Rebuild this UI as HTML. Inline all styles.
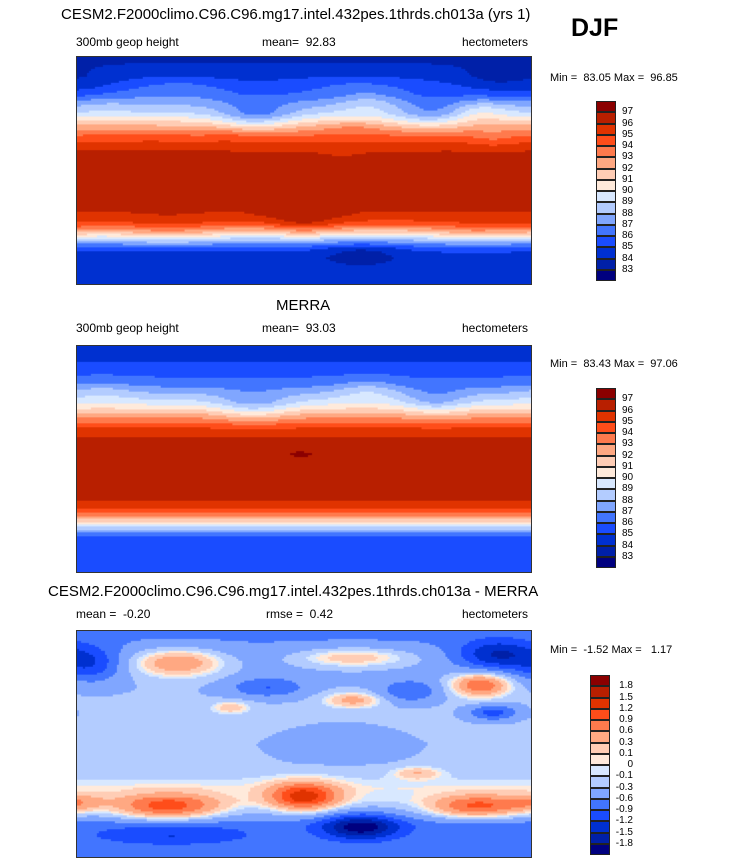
<!DOCTYPE html>
<html><head><meta charset="utf-8"><style>
body{margin:0;background:#fff;width:732px;height:865px;position:relative;overflow:hidden;font-family:"Liberation Sans",Arial,sans-serif;color:#000}
.t{position:absolute;white-space:nowrap}
.title{font-size:15px}
.sub{font-size:12px}
canvas{position:absolute;border:1px solid #333;box-sizing:border-box}
.cb{position:absolute}
.lab{position:absolute;font-size:10px}
</style></head><body>
<div class="t title" style="left:61px;top:6px">CESM2.F2000climo.C96.C96.mg17.intel.432pes.1thrds.ch013a (yrs 1)</div>
<div class="t" style="left:571px;top:14px;font-size:25px;font-weight:bold">DJF</div>
<div class="t sub" style="left:76px;top:35px">300mb geop height</div>
<div class="t sub" style="left:262px;top:35px">mean=&nbsp; 92.83</div>
<div class="t sub" style="left:462px;top:35px">hectometers</div>
<div class="t sub" style="left:550px;top:72px;font-size:11px">Min =&nbsp; 83.05 Max =&nbsp; 96.85</div>
<canvas id="m1" width="456" height="229" style="left:76px;top:56px;width:456px;height:229px"></canvas>

<div class="t title" style="left:276px;top:297px">MERRA</div>
<div class="t sub" style="left:76px;top:321px">300mb geop height</div>
<div class="t sub" style="left:262px;top:321px">mean=&nbsp; 93.03</div>
<div class="t sub" style="left:462px;top:321px">hectometers</div>
<div class="t sub" style="left:550px;top:358px;font-size:11px">Min =&nbsp; 83.43 Max =&nbsp; 97.06</div>
<canvas id="m2" width="456" height="228" style="left:76px;top:345px;width:456px;height:228px"></canvas>

<div class="t title" style="left:48px;top:583px">CESM2.F2000climo.C96.C96.mg17.intel.432pes.1thrds.ch013a - MERRA</div>
<div class="t sub" style="left:76px;top:607px">mean =&nbsp; -0.20</div>
<div class="t sub" style="left:266px;top:607px">rmse =&nbsp; 0.42</div>
<div class="t sub" style="left:462px;top:607px">hectometers</div>
<div class="t sub" style="left:550px;top:644px;font-size:11px">Min =&nbsp; -1.52 Max =&nbsp; &nbsp;1.17</div>
<canvas id="m3" width="456" height="228" style="left:76px;top:630px;width:456px;height:228px"></canvas>

<div id="cbs"></div>
<script>
const colors=["#00007f","#0020a8","#0030d0","#1a4cff","#4275ff","#80a6ff","#b3ccff","#d8e8ff","#ffeadb","#ffcdb5","#ffa882","#ff7a4d","#ff4d1a","#e03300","#b81f00","#8b0000"];
const absLevels=[83,84,85,86,87,88,89,90,91,92,93,94,95,96,97];
const absLabels=["83","84","85","86","87","88","89","90","91","92","93","94","95","96","97"];
const diffLevels=[-1.8,-1.5,-1.2,-0.9,-0.6,-0.3,-0.1,0,0.1,0.3,0.6,0.9,1.2,1.5,1.8];
const diffLabels=["-1.8","-1.5","-1.2","-0.9","-0.6","-0.3","-0.1","0","0.1","0.3","0.6","0.9","1.2","1.5","1.8"];
// MERRA zonal profile
const profLat=[90,75,60,45,35,25,15,0,-15,-30,-36,-42,-50,-55,-62,-70,-90];
const profVal=[84.4,85.1,86.5,89.5,92.5,95,96.3,96.6,96.5,96.2,95.8,94.5,91,88.5,86,85.2,85.5];
// MERRA anomalies: lon, lat, amp, rx, ry
const mLon=[140,285,230,177,20];
const mLat=[42,45,55,4,55];
const mAmp=[-2.0,-1.6,1.2,0.7,0.8];
const mRx=[30,25,25,14,25];
const mRy=[12,12,10,3,10];
// difference field: background profile + blobs
const dLat=[90,70,50,30,15,0,-15,-25,-35,-45,-55,-65,-75,-90];
const dBg=[-0.7,-0.5,-0.32,-0.25,-0.25,-0.28,-0.27,-0.15,0,-0.1,-0.4,-0.75,-0.7,-0.6];
const bLon=[80,219,320,219,122,72,180,317,270,225,75,333,11,151,264,330,0,210,60];
const bLat=[65,69,47,35,29,-50,-42,-50,-23,-66,-73,71,63,45,42,25,-47,0,5];
const bAmp=[1.0,0.7,1.2,0.7,0.5,1.3,1.5,1.2,0.5,-1.3,-0.5,-1.0,-0.7,-0.6,-0.6,-0.8,0.5,-0.2,0.15];
const bRx=[36,48,22,22,15,42,27,36,18,30,60,30,24,30,24,19,22,45,35];
const bRy=[11,8,9,6,5,10,11,9,5,10,8,12,14,8,9,6,7,15,12];

function interp(xs,ys,x){for(let i=0;i<xs.length-1;i++){if(x<=xs[i]&&x>=xs[i+1]){const t=(x-xs[i])/(xs[i+1]-xs[i]);return ys[i]+t*(ys[i+1]-ys[i]);}}return ys[ys.length-1];}
function blobs(L,A,amp,rx,ry,lon,lat){let s=0;for(let i=0;i<L.length;i++){let dl=lon-L[i];if(dl>180)dl-=360;if(dl<-180)dl+=360;const dp=lat-A[i];s+=amp[i]*Math.exp(-((dl/rx[i])**2+(dp/ry[i])**2));}return s;}
function merra(lon,lat){return interp(profLat,profVal,lat)+blobs(mLon,mLat,mAmp,mRx,mRy,lon,lat);}
function diff(lon,lat){return interp(dLat,dBg,lat)+blobs(bLon,bLat,bAmp,bRx,bRy,lon,lat);}
function col(levels,v){let i=0;while(i<levels.length&&v>=levels[i])i++;return colors[i];}
function draw(id,f,levels){const c=document.getElementById(id),x=c.getContext('2d'),W=c.width,H=c.height;
 for(let py=0;py<H;py+=2){const lat=90-(py+1)/H*180;for(let px=0;px<W;px+=2){const lon=(px+1)/W*360;x.fillStyle=col(levels,f(lon,lat));x.fillRect(px,py,2,2);}}}
draw('m1',(lo,la)=>merra(lo,la)+diff(lo,la),absLevels);
draw('m2',merra,absLevels);
draw('m3',diff,diffLevels);
function colorbar(name,left,top,h,labels,labX,align){const wrap=document.getElementById('cbs');const bh=h/16;
 for(let i=0;i<16;i++){const d=document.createElement('div');
  
  
  d.className='cb';d.style.cssText=`left:${left}px;top:${top+i*bh}px;width:20px;height:${bh}px;background:${colors[15-i]};border:1px solid #222;box-sizing:border-box`;wrap.appendChild(d);}
 for(let i=0;i<labels.length;i++){const d=document.createElement('div');
  
  
  d.className='lab';const yy=top+(i+1)*bh;
  d.style.cssText=align==='r'?`right:${732-labX}px;top:${yy-6}px;text-align:right`:`left:${labX}px;top:${yy-6}px`;
  d.textContent=labels[labels.length-1-i];wrap.appendChild(d);}}
colorbar('colorbar-model',596,101,180,absLabels,622,'l');
colorbar('colorbar-merra',596,388,180,absLabels,622,'l');
colorbar('colorbar-diff',590,675,180,diffLabels,633,'r');
</script>
</body></html>
